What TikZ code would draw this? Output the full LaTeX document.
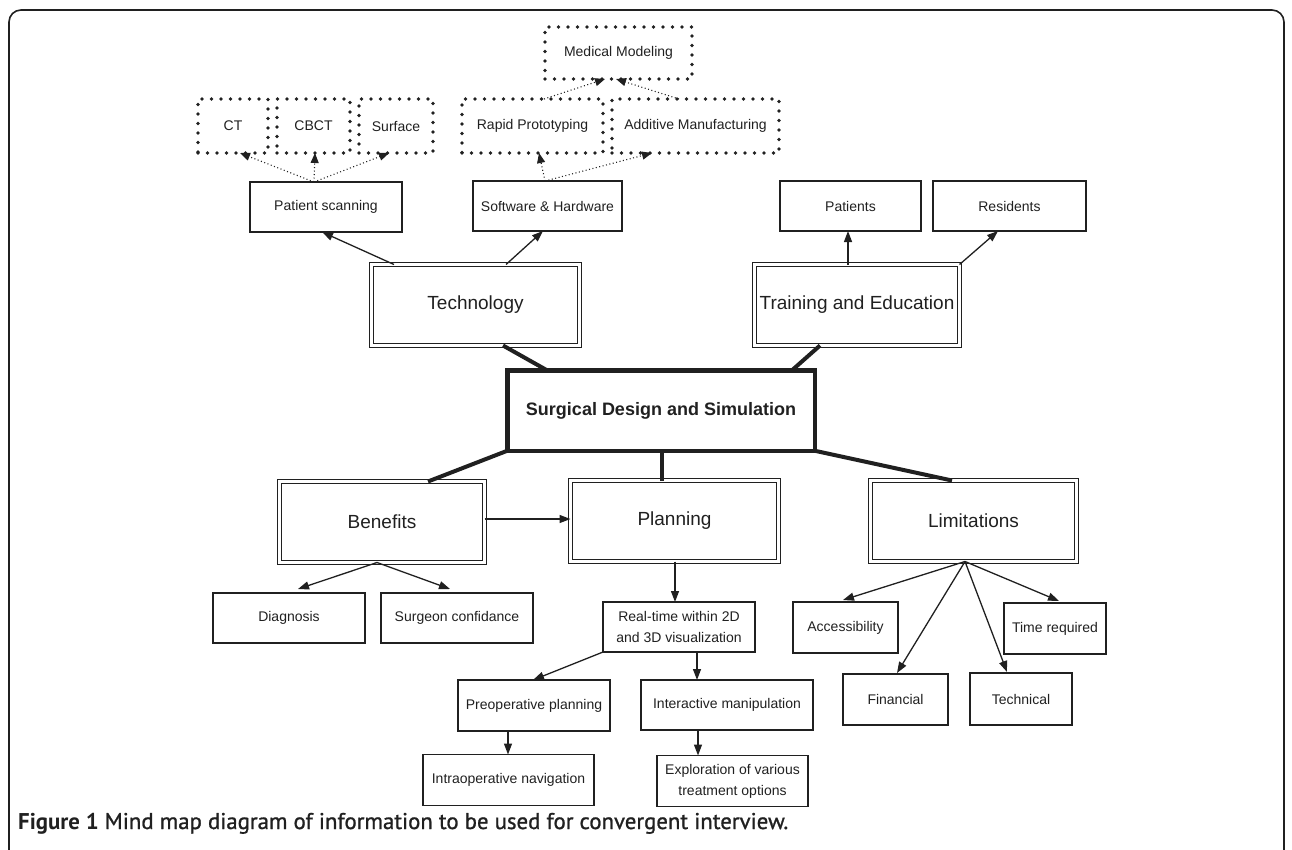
\documentclass[tikz,border=0pt]{standalone}
\usepackage{fontspec}
\setmainfont{Liberation Sans}
\newfontfamily\capfont{PT Sans}
\newfontfamily\capsemi[FakeBold=1]{PT Sans}
\usetikzlibrary{arrows.meta,calc}
\definecolor{ink}{HTML}{202020}
\tikzset{
  plainbox/.style={draw=ink, line width=1.3pt, inner sep=0pt, outer sep=0pt, text=ink,
    font=\fontsize{14}{21}\selectfont, align=center},
  dblbox/.style={draw=ink, double, double distance=2.4pt, line width=1.3pt, inner sep=0pt,
    outer sep=0pt, text=ink, font=\fontsize{19}{23}\selectfont},
  dotbox/.style={draw=ink, line width=3.6pt, dash pattern=on 0pt off 9.5pt, line cap=round,
    inner sep=0pt, outer sep=0pt, text=ink, font=\fontsize{14}{17}\selectfont},
  mainbox/.style={draw=ink, line width=4.5pt, inner sep=0pt, outer sep=0pt, text=ink,
    font=\bfseries\fontsize{18}{22}\selectfont},
  arr/.style={draw=ink, line width=1.3pt, -{Triangle[length=11pt,width=8pt]}},
  dotarr/.style={draw=ink, line width=1.1pt, dash pattern=on 1pt off 2.5pt,
    -{Triangle[length=10pt,width=8pt]}},
  limb/.style={draw=ink, line width=4pt},
}
\begin{document}
\begin{tikzpicture}[x=1pt,y=-1pt]
\useasboundingbox (0,0) rectangle (1292,849);
\begin{scope}
\clip (0,0) rectangle (1292,849);
\draw[ink, line width=1.6pt, rounded corners=12pt] (9,870) -- (9,10) -- (1284,10) -- (1284,870);
\end{scope}

% dotted boxes
\node[dotbox, minimum width=147pt, minimum height=52pt] (mm) at (618.5,53) {Medical Modeling};
\node[dotbox, minimum width=70pt, minimum height=54pt] (ct) at (233,126) {CT};
\node[dotbox, minimum width=73pt, minimum height=54pt] (cbct) at (313.5,126) {CBCT};
\node[dotbox, minimum width=74pt, minimum height=54pt] (surf) at (396,126) {Surface};
\node[dotbox, minimum width=141pt, minimum height=54pt] (rp) at (532.5,126) {Rapid Prototyping};
\node[dotbox, minimum width=167pt, minimum height=54pt] (am) at (695.5,126) {Additive Manufacturing};

% plain boxes top
\node[plainbox, minimum width=152pt, minimum height=50pt] (ps) at (326,207) {Patient scanning};
\node[plainbox, minimum width=149pt, minimum height=50pt] (sh) at (547.5,206) {Software \& Hardware};
\node[plainbox, minimum width=141pt, minimum height=50pt] (pat) at (850.5,206) {Patients};
\node[plainbox, minimum width=153pt, minimum height=50pt] (res) at (1009.5,206) {Residents};

% double boxes
\node[dblbox, minimum width=208pt, minimum height=81pt] (tech) at (475.5,305) {Technology};
\node[dblbox, minimum width=205pt, minimum height=81pt] (train) at (857,305) {Training and Education};
\node[mainbox, minimum width=307.5pt, minimum height=80.5pt] (central) at (661,410.5) {Surgical Design and Simulation};
\node[dblbox, minimum width=205pt, minimum height=81pt] (ben) at (382,522) {Benefits};
\node[dblbox, minimum width=208pt, minimum height=81pt] (plan) at (674.5,521) {Planning};
\node[dblbox, minimum width=206pt, minimum height=81pt] (lim) at (973.5,521) {Limitations};

% plain boxes bottom
\node[plainbox, minimum width=152pt, minimum height=50pt] (diag) at (289,618) {Diagnosis};
\node[plainbox, minimum width=152pt, minimum height=50pt] (surg) at (457,618) {Surgeon confidance};
\node[plainbox, minimum width=152pt, minimum height=50pt] (rt) at (679,627) {Real-time within 2D\\and 3D visualization};
\node[plainbox, minimum width=105pt, minimum height=51pt] (acc) at (845.5,627.5) {Accessibility};
\node[plainbox, minimum width=102pt, minimum height=51pt] (time) at (1055,628.5) {Time required};
\node[plainbox, minimum width=105pt, minimum height=51pt] (fin) at (895.5,699.5) {Financial};
\node[plainbox, minimum width=102pt, minimum height=52pt] (techn) at (1021,699) {Technical};
\node[plainbox, minimum width=152pt, minimum height=51pt] (pre) at (534,705.5) {Preoperative planning};
\node[plainbox, minimum width=172pt, minimum height=50pt] (inter) at (727,705) {Interactive manipulation};
\node[plainbox, minimum width=171pt, minimum height=51pt] (intra) at (508.5,780) {Intraoperative navigation};
\node[plainbox, minimum width=151pt, minimum height=51pt] (expl) at (732.5,781) {Exploration of various\\treatment options};

% thick limbs
\draw[limb] ([xshift=27.5pt]tech.south) -- ([xshift=-114pt]central.north);
\draw[limb] ([xshift=-37pt]train.south) -- ([xshift=131pt]central.north);
\draw[limb] (central.south west) -- ([xshift=46pt]ben.north);
\draw[limb] ([xshift=1pt]central.south) -- ([xshift=-12.5pt]plan.north);
\draw[limb] (central.south east) -- ([xshift=-21.5pt]lim.north);

% arrows
\draw[arr] ([xshift=-81.5pt]tech.north) -- ([xshift=-4pt]ps.south);
\draw[arr] ([xshift=30.5pt]tech.north) -- ([xshift=-4.5pt]sh.south);
\draw[arr] ([xshift=-9pt]train.north) -- ([xshift=-2.5pt]pat.south);
\draw[arr] (train.north east) -- ([xshift=-11.5pt]res.south);

\draw[dotarr] ([xshift=-12pt]ps.north) -- ([xshift=7pt]ct.south);
\draw[dotarr] ([xshift=-12pt]ps.north) -- ([xshift=1.5pt]cbct.south);
\draw[dotarr] ([xshift=-12pt]ps.north) -- ([xshift=-7pt]surf.south);
\draw[dotarr] ([xshift=-2.5pt]sh.north) -- ([xshift=6.5pt]rp.south);
\draw[dotarr] ([xshift=-2.5pt]sh.north) -- ([xshift=-43.5pt]am.south);
\draw[dotarr] ([xshift=11.5pt]rp.north) -- ([xshift=-13.5pt]mm.south);
\draw[dotarr] ([xshift=-16.5pt]am.north) -- ([xshift=-2.5pt]mm.south);

\draw[arr] ([yshift=3pt]ben.east) -- ([yshift=3pt]ben.east -| plan.west);
\draw[arr] ([xshift=-5pt]ben.south) -- ([xshift=9pt,yshift=4pt]diag.north);
\draw[arr] ([xshift=-5pt]ben.south) -- ([xshift=-7pt,yshift=4pt]surg.north);
\draw[arr] ([xshift=0.5pt]plan.south) -- ([xshift=-4pt]rt.north);
\draw[arr] ([xshift=18pt]rt.south) -- ([xshift=-30pt]inter.north);
\draw[arr] ([xshift=-29pt]inter.south) -- ([xshift=-34.5pt]expl.north);
\draw[arr] (rt.south west) -- ([xshift=-1pt]pre.north);
\draw[arr] ([xshift=-26pt]pre.south) -- ([xshift=-0.5pt]intra.north);
\draw[arr] ([xshift=-8.5pt]lim.south) -- ([xshift=-2.5pt,yshift=2pt]acc.north);
\draw[arr] ([xshift=-8.5pt]lim.south) -- ([xshift=4pt,yshift=2pt]time.north);
\draw[arr] ([xshift=-8.5pt]lim.south) -- ([xshift=1.5pt,yshift=1pt]fin.north);
\draw[arr] ([xshift=-8.5pt]lim.south) -- ([xshift=-14pt,yshift=1pt]techn.north);

% caption
\node[anchor=base west, inner sep=0pt, text=ink] (cap) at (18,829)
  {\resizebox{770pt}{!}{\fontsize{20}{24}\selectfont\capfont\textbf{Figure 1} \capsemi Mind map diagram of information to be used for convergent interview.}};
\end{tikzpicture}
\end{document}
